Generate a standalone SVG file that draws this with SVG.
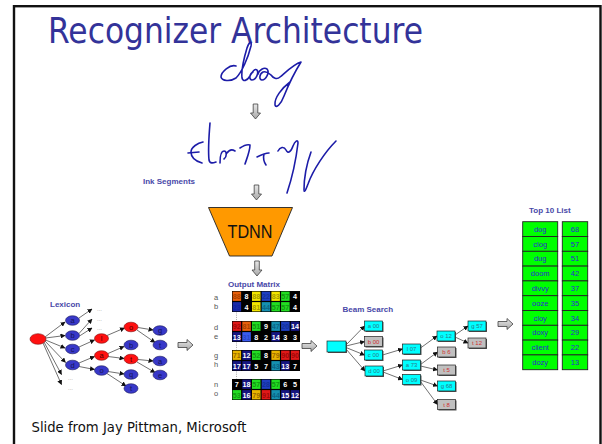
<svg xmlns="http://www.w3.org/2000/svg" width="602" height="444" viewBox="0 0 602 444">
<style>
.lbl{font-family:"Liberation Sans",Arial,sans-serif;font-size:8px;font-weight:bold;fill:#4848a8}
.ink{fill:none;stroke:#1c1ca8;stroke-width:1.6;stroke-linecap:round;stroke-linejoin:round}
.blk{fill:url(#gr);stroke:#404040;stroke-width:0.8}
.nb{fill:#3838c8;stroke:#20205a;stroke-width:0.6}
.nr{fill:#ff1010;stroke:#801010;stroke-width:0.6}
.nt{font-family:"Liberation Sans",Arial,sans-serif;font-size:7.5px;text-anchor:middle;fill:#14145a}
.ntr{font-family:"Liberation Sans",Arial,sans-serif;font-size:7.5px;text-anchor:middle;fill:#500000}
.dots{font-family:"Liberation Sans",Arial,sans-serif;font-size:6px;fill:#999}
.e{fill:none;stroke:#111;stroke-width:0.6;marker-end:url(#ah)}
.be{fill:none;stroke:#111;stroke-width:0.6;marker-end:url(#ah)}
.rl{font-family:"Liberation Sans",Arial,sans-serif;font-size:7.5px;fill:#555}
.mt{font-family:"Liberation Sans",Arial,sans-serif;font-size:7.2px;font-weight:bold;text-anchor:middle}
.bc{fill:#00ffff;stroke:#222;stroke-width:0.7}
.bg{fill:#c0c0c0;stroke:#222;stroke-width:0.7}
.sh{fill:#555}
.tc{font-family:"Liberation Sans",Arial,sans-serif;font-size:6px;text-anchor:middle;fill:#2a7a8a}
.tg{font-family:"Liberation Sans",Arial,sans-serif;font-size:6px;text-anchor:middle;fill:#d03030}
.tl{fill:#00ff00;stroke:#222;stroke-width:0.9}
.tt{font-family:"Liberation Sans",Arial,sans-serif;font-size:7.5px;text-anchor:middle;fill:#2a2ad0}
</style>
<defs>
<linearGradient id="gr" x1="0" y1="0" x2="0" y2="1"><stop offset="0" stop-color="#e8e8e8"/><stop offset="1" stop-color="#a8a8a8"/></linearGradient>
<marker id="ah" markerWidth="5" markerHeight="5" refX="4.5" refY="2.5" orient="auto" markerUnits="userSpaceOnUse"><path d="M0,0 L5,2.5 L0,5 Z" fill="#111"/></marker>
<path id="ra" d="M0,-2.5 H9 V-5.5 L15,0 L9,5.5 V2.5 H0 Z"/>
<path id="da" d="M-2.3,0 V9 H-5 L0,15 L5,9 H2.3 V0 Z"/>
</defs>
<rect width="602" height="444" fill="#fff"/>
<rect x="14" y="6.2" width="586.5" height="470" fill="none" stroke="#111" stroke-width="2.4"/>

<g id="title"><text x="48" y="43" font-family="'DejaVu Sans',Verdana,sans-serif" font-size="36" fill="#333399" textLength="375" lengthAdjust="spacingAndGlyphs">Recognizer Architecture</text></g>

<g id="ink-dog">
<path class="ink" d="M236,66 C230,64 221,72 221,77 C222,81 230,82 236,78 C242,72 248,58 251,46 C252,40 249,42 247,48 C244,58 241,70 242,78 C243,82 247,81 250,76 C252,72 255,68 257,70 C259,73 256,80 252,80 C249,80 249,74 253,72"/>
<path class="ink" d="M258,74 C259,70 264,67 267,69 C270,72 266,80 262,80 C259,80 259,74 263,72 C266,71 269,73 271,75 C273,78 277,80 280,77 C286,72 294,64 301,62 C296,70 288,86 284,96 C281,104 276,109 275,105 C274,98 282,88 290,82"/>
</g>

<g id="ink-segments">
<path class="ink" d="M203,142 C198,143 191,147 191,152 C191,157 195,161 202,163"/>
<path class="ink" d="M188,153 L199,152"/>
<path class="ink" d="M210,123 C209,135 208,150 209,160 C210,164 213,163 216,162"/>
<path class="ink" d="M220,163 C220,156 221,151 224,151 C227,151 227,157 224,159 M227,153 C229,150 232,149 235,151"/>
<path class="ink" d="M240,148 C243,146 247,144 250,145 C250,151 247,158 245,164"/>
<path class="ink" d="M257,157 C261,155 265,153 269,153 M264,154 C263,158 264,162 266,165"/>
<path class="ink" d="M278,151 C280,147 284,146 286,150 C288,154 291,152 293,146 C295,141 298,139 298,143 C296,160 292,178 287,193"/>
<path class="ink" d="M311,152 C307,163 304,178 304,190"/>
<path class="ink" d="M336,141 C325,152 313,170 308,184 C306,189 305,192 304,191"/>
</g>
<g id="label-ink"><text class="lbl" x="143" y="184">Ink Segments</text></g>

<g id="down-arrows">
<use href="#da" x="255.5" y="104" class="blk"/>
<use href="#da" x="256.5" y="185" class="blk"/>
<use href="#da" x="257" y="261" class="blk"/>
</g>

<g id="tdnn">
<polygon points="208.5,207.5 292.5,207.5 272,256 229.5,256" fill="#ff9900" stroke="#222" stroke-width="0.9"/>
<text x="250" y="238" font-family="'Liberation Sans',Arial,sans-serif" font-size="17.5" fill="#111" text-anchor="middle" textLength="45" lengthAdjust="spacingAndGlyphs">TDNN</text>
</g>

<g id="lexicon">
<text class="lbl" x="50" y="307">Lexicon</text>
<g id="lex-edges">
<path class="e" d="M45,337 L65,322"/>
<path class="e" d="M45.5,338 L65,335.5"/>
<path class="e" d="M45.5,340 L65,348"/>
<path class="e" d="M45,341 L65.5,362.5"/>
<path class="e" d="M44,342 L61.5,374.5"/>
<path class="e" d="M43,343 L61.5,384.5"/>
<path class="e" d="M79,318 L92,309"/>
<path class="e" d="M79,333.5 L92,319"/>
<path class="e" d="M79.5,336 L92,328"/>
<path class="e" d="M79,347 L94.5,340"/>
<path class="e" d="M79,363 L94.5,356.5"/>
<path class="e" d="M79,366.5 L94.5,369.5"/>
<path class="e" d="M107,335.5 L124.5,328"/>
<path class="e" d="M108,353.5 L124,346.5"/>
<path class="e" d="M108,356.5 L124,358.5"/>
<path class="e" d="M108,371.5 L124,374"/>
<path class="e" d="M107,373.5 L126,386"/>
<path class="e" d="M138,327.5 L153,330"/>
<path class="e" d="M137,330 L155,342.5"/>
<path class="e" d="M138,359.5 L153,361"/>
<path class="e" d="M137,362 L155,372.5"/>
</g>
<text class="dots" x="97" y="311">...</text>
<text class="dots" x="97" y="321">...</text>
<text class="dots" x="97" y="330">...</text>
<text class="dots" x="68" y="380">...</text>
<text class="dots" x="68" y="390">...</text>
<g id="lx-root"><ellipse class="nr" cx="38" cy="339" rx="8" ry="5.3"/></g>
<g id="lx-a"><ellipse class="nb" cx="72.5" cy="320.5" rx="7" ry="4.8"/><text class="nt" x="72.5" y="323.2">a</text></g>
<g id="lx-b"><ellipse class="nb" cx="72.5" cy="335.5" rx="7" ry="4.8"/><text class="nt" x="72.5" y="338.2">b</text></g>
<g id="lx-c"><ellipse class="nb" cx="72.5" cy="349" rx="7" ry="4.8"/><text class="nt" x="72.5" y="351.7">c</text></g>
<g id="lx-d"><ellipse class="nb" cx="72.5" cy="365" rx="7" ry="4.8"/><text class="nt" x="72.5" y="367.7">d</text></g>
<g id="lx-cl"><ellipse class="nr" cx="101.5" cy="338.5" rx="7" ry="4.8"/><text class="ntr" x="101.5" y="341.2">l</text></g>
<g id="lx-da"><ellipse class="nr" cx="101.5" cy="355.5" rx="7" ry="4.8"/><text class="ntr" x="101.5" y="358.2">a</text></g>
<g id="lx-do"><ellipse class="nb" cx="101.5" cy="370.5" rx="7" ry="4.8"/><text class="nt" x="101.5" y="373.2">o</text></g>
<g id="lx-clo"><ellipse class="nr" cx="131" cy="327" rx="7" ry="4.8"/><text class="ntr" x="131" y="329.7">o</text></g>
<g id="lx-dab"><ellipse class="nb" cx="131" cy="345" rx="7" ry="4.8"/><text class="nt" x="131" y="347.7">b</text></g>
<g id="lx-dat"><ellipse class="nr" cx="131" cy="359" rx="7" ry="4.8"/><text class="ntr" x="131" y="361.7">t</text></g>
<g id="lx-doq"><ellipse class="nb" cx="131" cy="374.5" rx="7" ry="4.8"/><text class="nt" x="131" y="377.2">q</text></g>
<g id="lx-dot"><ellipse class="nb" cx="131" cy="388.5" rx="7" ry="4.8"/><text class="nt" x="131" y="391.2">t</text></g>
<g id="lx-clog"><ellipse class="nb" cx="160" cy="330.5" rx="7" ry="4.8"/><text class="nt" x="160" y="333.2">g</text></g>
<g id="lx-clot"><ellipse class="nb" cx="160" cy="345" rx="7" ry="4.8"/><text class="nt" x="160" y="347.7">t</text></g>
<g id="lx-data"><ellipse class="nb" cx="160" cy="361" rx="7" ry="4.8"/><text class="nt" x="160" y="363.7">a</text></g>
<g id="lx-date"><ellipse class="nb" cx="160" cy="375" rx="7" ry="4.8"/><text class="nt" x="160" y="377.7">e</text></g>
</g>

<g id="right-arrows">
<use href="#ra" x="178" y="345" class="blk"/>
<use href="#ra" x="302" y="346" class="blk"/>
<use href="#ra" x="498" y="324" class="blk"/>
</g>

<g id="output-matrix">
<text class="lbl" x="228" y="287">Output Matrix</text>
<g id="row-labels">
<text class="rl" x="214" y="300">a</text><text class="rl" x="214" y="309">b</text>
<text class="rl" x="214" y="330">d</text><text class="rl" x="214" y="339">e</text>
<text class="rl" x="214" y="358">g</text><text class="rl" x="214" y="367">h</text>
<text class="rl" x="214" y="387">n</text><text class="rl" x="214" y="396">o</text>
</g>
<g stroke="#aaa" stroke-width="1" stroke-dasharray="1,1.2">
<line x1="236.5" y1="312.5" x2="236.5" y2="320.5"/>
<line x1="236.5" y1="342.5" x2="236.5" y2="349.5"/>
<line x1="236.5" y1="371.5" x2="236.5" y2="378.5"/>
</g>
<g id="mx-ab">
<rect x="232" y="291" width="68" height="21" fill="#000"/>
<rect x="232.6" y="291.6" width="8.5" height="9.3" fill="#e8600c"/><text class="mt" x="236.85" y="299.1" fill="#a84000">88</text>
<text class="mt" x="246.55" y="299.1" fill="#fff">8</text>
<rect x="252" y="291.6" width="8.5" height="9.3" fill="#f2e600"/><text class="mt" x="256.25" y="299.1" fill="#a89c00">88</text>
<rect x="261.7" y="291.6" width="8.5" height="9.3" fill="#1f3fc0"/><text class="mt" x="265.95" y="299.1" fill="#12309a">22</text>
<rect x="271.4" y="291.6" width="8.5" height="9.3" fill="#f2e600"/><text class="mt" x="275.65" y="299.1" fill="#a89c00">83</text>
<rect x="281.1" y="291.6" width="8.5" height="9.3" fill="#22dd22"/><text class="mt" x="285.35" y="299.1" fill="#119911">57</text>
<text class="mt" x="295.05" y="299.1" fill="#fff">4</text>
<rect x="232.6" y="302.1" width="8.5" height="9.3" fill="#1a2aa8"/><text class="mt" x="236.85" y="309.6" fill="#1020a0">23</text>
<text class="mt" x="246.55" y="309.6" fill="#fff">4</text>
<rect x="252" y="302.1" width="8.5" height="9.3" fill="#f2e600"/><text class="mt" x="256.25" y="309.6" fill="#a89c00">81</text>
<rect x="261.7" y="302.1" width="8.5" height="9.3" fill="#1590b0"/><text class="mt" x="265.95" y="309.6" fill="#0b6585">44</text>
<rect x="271.4" y="302.1" width="8.5" height="9.3" fill="#22dd22"/><text class="mt" x="275.65" y="309.6" fill="#119911">57</text>
<rect x="281.1" y="302.1" width="8.5" height="9.3" fill="#22dd22"/><text class="mt" x="285.35" y="309.6" fill="#119911">57</text>
<text class="mt" x="295.05" y="309.6" fill="#fff">4</text>
</g>
<g id="mx-de">
<rect x="232" y="321" width="68" height="21" fill="#000"/>
<rect x="232.6" y="321.6" width="8.5" height="9.3" fill="#e01818"/><text class="mt" x="236.85" y="329.1" fill="#a00808">92</text>
<rect x="242.3" y="321.6" width="8.5" height="9.3" fill="#e8600c"/><text class="mt" x="246.55" y="329.1" fill="#a84000">81</text>
<rect x="252" y="321.6" width="8.5" height="9.3" fill="#22dd22"/><text class="mt" x="256.25" y="329.1" fill="#119911">51</text>
<text class="mt" x="265.95" y="329.1" fill="#fff">9</text>
<rect x="271.4" y="321.6" width="8.5" height="9.3" fill="#1590b0"/><text class="mt" x="275.65" y="329.1" fill="#0b6585">47</text>
<rect x="281.1" y="321.6" width="8.5" height="9.3" fill="#1f3fc0"/><text class="mt" x="285.35" y="329.1" fill="#12309a">20</text>
<rect x="290.8" y="321.6" width="8.5" height="9.3" fill="#161680"/><text class="mt" x="295.05" y="329.1" fill="#fff">14</text>
<rect x="232.6" y="332.1" width="8.5" height="9.3" fill="#161680"/><text class="mt" x="236.85" y="339.6" fill="#fff">13</text>
<rect x="242.3" y="332.1" width="8.5" height="9.3" fill="#3a5af0"/><text class="mt" x="246.55" y="339.6" fill="#2a46c8">31</text>
<text class="mt" x="256.25" y="339.6" fill="#fff">8</text>
<text class="mt" x="265.95" y="339.6" fill="#fff">2</text>
<rect x="271.4" y="332.1" width="8.5" height="9.3" fill="#161680"/><text class="mt" x="275.65" y="339.6" fill="#fff">14</text>
<text class="mt" x="285.35" y="339.6" fill="#fff">3</text>
<text class="mt" x="295.05" y="339.6" fill="#fff">3</text>
</g>
<g id="mx-gh">
<rect x="232" y="350" width="68" height="21" fill="#000"/>
<rect x="232.6" y="350.6" width="8.5" height="9.3" fill="#e8b400"/><text class="mt" x="236.85" y="358.1" fill="#9a6a00">71</text>
<rect x="242.3" y="350.6" width="8.5" height="9.3" fill="#161680"/><text class="mt" x="246.55" y="358.1" fill="#fff">12</text>
<rect x="252" y="350.6" width="8.5" height="9.3" fill="#22dd22"/><text class="mt" x="256.25" y="358.1" fill="#119911">52</text>
<text class="mt" x="265.95" y="358.1" fill="#fff">8</text>
<rect x="271.4" y="350.6" width="8.5" height="9.3" fill="#e8b400"/><text class="mt" x="275.65" y="358.1" fill="#9a6a00">79</text>
<rect x="281.1" y="350.6" width="8.5" height="9.3" fill="#e01818"/><text class="mt" x="285.35" y="358.1" fill="#a00808">90</text>
<rect x="290.8" y="350.6" width="8.5" height="9.3" fill="#e01818"/><text class="mt" x="295.05" y="358.1" fill="#a00808">90</text>
<rect x="232.6" y="361.1" width="8.5" height="9.3" fill="#161680"/><text class="mt" x="236.85" y="368.6" fill="#fff">17</text>
<rect x="242.3" y="361.1" width="8.5" height="9.3" fill="#161680"/><text class="mt" x="246.55" y="368.6" fill="#fff">17</text>
<text class="mt" x="256.25" y="368.6" fill="#fff">5</text>
<text class="mt" x="265.95" y="368.6" fill="#fff">7</text>
<rect x="271.4" y="361.1" width="8.5" height="9.3" fill="#1590b0"/><text class="mt" x="275.65" y="368.6" fill="#0b6585">43</text>
<rect x="281.1" y="361.1" width="8.5" height="9.3" fill="#161680"/><text class="mt" x="285.35" y="368.6" fill="#fff">13</text>
<text class="mt" x="295.05" y="368.6" fill="#fff">7</text>
</g>
<g id="mx-no">
<rect x="232" y="379" width="68" height="21" fill="#000"/>
<text class="mt" x="236.85" y="387.1" fill="#fff">7</text>
<rect x="242.3" y="379.6" width="8.5" height="9.3" fill="#161680"/><text class="mt" x="246.55" y="387.1" fill="#fff">18</text>
<rect x="252" y="379.6" width="8.5" height="9.3" fill="#22dd22"/><text class="mt" x="256.25" y="387.1" fill="#119911">57</text>
<rect x="261.7" y="379.6" width="8.5" height="9.3" fill="#1f3fc0"/><text class="mt" x="265.95" y="387.1" fill="#12309a">28</text>
<rect x="271.4" y="379.6" width="8.5" height="9.3" fill="#22dd22"/><text class="mt" x="275.65" y="387.1" fill="#119911">57</text>
<text class="mt" x="285.35" y="387.1" fill="#fff">6</text>
<text class="mt" x="295.05" y="387.1" fill="#fff">5</text>
<rect x="232.6" y="390.1" width="8.5" height="9.3" fill="#22dd22"/><text class="mt" x="236.85" y="397.6" fill="#119911">53</text>
<rect x="242.3" y="390.1" width="8.5" height="9.3" fill="#161680"/><text class="mt" x="246.55" y="397.6" fill="#fff">16</text>
<rect x="252" y="390.1" width="8.5" height="9.3" fill="#e8b400"/><text class="mt" x="256.25" y="397.6" fill="#9a6a00">79</text>
<rect x="261.7" y="390.1" width="8.5" height="9.3" fill="#e01818"/><text class="mt" x="265.95" y="397.6" fill="#a00808">91</text>
<rect x="271.4" y="390.1" width="8.5" height="9.3" fill="#1590b0"/><text class="mt" x="275.65" y="397.6" fill="#0b6585">44</text>
<rect x="281.1" y="390.1" width="8.5" height="9.3" fill="#161680"/><text class="mt" x="285.35" y="397.6" fill="#fff">15</text>
<rect x="290.8" y="390.1" width="8.5" height="9.3" fill="#161680"/><text class="mt" x="295.05" y="397.6" fill="#fff">12</text>
</g>
</g>

<g id="beam-search">
<text class="lbl" x="342.5" y="312">Beam Search</text>
<g id="beam-edges">
<path class="be" d="M346,345 L364.5,326"/>
<path class="be" d="M346,346 L364.5,341.5"/>
<path class="be" d="M346,347.5 L364.5,355"/>
<path class="be" d="M346,349 L365,371"/>
<path class="be" d="M382.5,355 L402.5,349"/>
<path class="be" d="M383,371 L402.5,365"/>
<path class="be" d="M383,372 L402.5,379.5"/>
<path class="be" d="M420.5,348 L437,336"/>
<path class="be" d="M420.5,364.5 L437.5,352"/>
<path class="be" d="M420.5,366 L437.5,370"/>
<path class="be" d="M420.5,380 L437.5,386"/>
<path class="be" d="M420.5,381.5 L437.5,404.5"/>
<path class="be" d="M455,335 L468,326"/>
<path class="be" d="M455,337 L468,343"/>
</g>
<g id="bs-root"><rect class="sh" x="328" y="342" width="19" height="11"/><rect class="bc" x="327" y="341" width="19" height="11"/></g>
<g id="bs-a00"><rect class="sh" x="365.5" y="322" width="18" height="10"/><rect class="bc" x="364.5" y="321" width="18" height="10"/><text class="tc" x="373.5" y="328.2">a 00</text></g>
<g id="bs-b00"><rect class="sh" x="365.5" y="337.5" width="18" height="10"/><rect class="bg" x="364.5" y="336.5" width="18" height="10"/><text class="tg" x="373.5" y="343.7">b 00</text></g>
<g id="bs-c00"><rect class="sh" x="365.5" y="351" width="18" height="10"/><rect class="bc" x="364.5" y="350" width="18" height="10"/><text class="tc" x="373.5" y="357.2">c 00</text></g>
<g id="bs-d00"><rect class="sh" x="366" y="367" width="18" height="10"/><rect class="bc" x="365" y="366" width="18" height="10"/><text class="tc" x="374" y="373.2">d 00</text></g>
<g id="bs-l07"><rect class="sh" x="403.5" y="345" width="18" height="10"/><rect class="bc" x="402.5" y="344" width="18" height="10"/><text class="tc" x="411.5" y="351.2">l 07</text></g>
<g id="bs-a73"><rect class="sh" x="403.5" y="361" width="18" height="10"/><rect class="bc" x="402.5" y="360" width="18" height="10"/><text class="tc" x="411.5" y="367.2">a 73</text></g>
<g id="bs-o09"><rect class="sh" x="403.5" y="375.5" width="18" height="10"/><rect class="bc" x="402.5" y="374.5" width="18" height="10"/><text class="tc" x="411.5" y="381.7">o 09</text></g>
<g id="bs-o12"><rect class="sh" x="438" y="332" width="18" height="10"/><rect class="bc" x="437" y="331" width="18" height="10"/><text class="tc" x="446" y="338.2">o 12</text></g>
<g id="bs-b6"><rect class="sh" x="438.5" y="348" width="18" height="10"/><rect class="bg" x="437.5" y="347" width="18" height="10"/><text class="tg" x="446.5" y="354.2">b 6</text></g>
<g id="bs-t5"><rect class="sh" x="438.5" y="366" width="18" height="10"/><rect class="bg" x="437.5" y="365" width="18" height="10"/><text class="tg" x="446.5" y="372.2">t 5</text></g>
<g id="bs-g68"><rect class="sh" x="438.5" y="382" width="18" height="10"/><rect class="bc" x="437.5" y="381" width="18" height="10"/><text class="tc" x="446.5" y="388.2">g 68</text></g>
<g id="bs-t8"><rect class="sh" x="438.5" y="400.5" width="18" height="10"/><rect class="bg" x="437.5" y="399.5" width="18" height="10"/><text class="tg" x="446.5" y="406.7">t 8</text></g>
<g id="bs-g57"><rect class="sh" x="469" y="322" width="18" height="10"/><rect class="bc" x="468" y="321" width="18" height="10"/><text class="tc" x="477" y="328.2">g 57</text></g>
<g id="bs-t12"><rect class="sh" x="469" y="339" width="18" height="10"/><rect class="bg" x="468" y="338" width="18" height="10"/><text class="tg" x="477" y="345.2">t 12</text></g>
</g>

<g id="top10">
<text class="lbl" x="529" y="213">Top 10 List</text>
<g id="t1"><rect class="tl" x="522.7" y="221.7" width="35" height="14.8"/><text class="tt" x="540.2" y="231.8">dog</text><rect class="tl" x="562.3" y="221.7" width="25.4" height="14.8"/><text class="tt" x="575" y="231.8">68</text></g>
<g id="t2"><rect class="tl" x="522.7" y="236.5" width="35" height="14.8"/><text class="tt" x="540.2" y="246.6">clog</text><rect class="tl" x="562.3" y="236.5" width="25.4" height="14.8"/><text class="tt" x="575" y="246.6">57</text></g>
<g id="t3"><rect class="tl" x="522.7" y="251.3" width="35" height="14.8"/><text class="tt" x="540.2" y="261.4">dug</text><rect class="tl" x="562.3" y="251.3" width="25.4" height="14.8"/><text class="tt" x="575" y="261.4">51</text></g>
<g id="t4"><rect class="tl" x="522.7" y="266.1" width="35" height="14.8"/><text class="tt" x="540.2" y="276.2">doom</text><rect class="tl" x="562.3" y="266.1" width="25.4" height="14.8"/><text class="tt" x="575" y="276.2">42</text></g>
<g id="t5"><rect class="tl" x="522.7" y="280.9" width="35" height="14.8"/><text class="tt" x="540.2" y="291">divvy</text><rect class="tl" x="562.3" y="280.9" width="25.4" height="14.8"/><text class="tt" x="575" y="291">37</text></g>
<g id="t6"><rect class="tl" x="522.7" y="295.7" width="35" height="14.8"/><text class="tt" x="540.2" y="305.8">ooze</text><rect class="tl" x="562.3" y="295.7" width="25.4" height="14.8"/><text class="tt" x="575" y="305.8">35</text></g>
<g id="t7"><rect class="tl" x="522.7" y="310.5" width="35" height="14.8"/><text class="tt" x="540.2" y="320.6">cloy</text><rect class="tl" x="562.3" y="310.5" width="25.4" height="14.8"/><text class="tt" x="575" y="320.6">34</text></g>
<g id="t8"><rect class="tl" x="522.7" y="325.3" width="35" height="14.8"/><text class="tt" x="540.2" y="335.4">doxy</text><rect class="tl" x="562.3" y="325.3" width="25.4" height="14.8"/><text class="tt" x="575" y="335.4">29</text></g>
<g id="t9"><rect class="tl" x="522.7" y="340.1" width="35" height="14.8"/><text class="tt" x="540.2" y="350.2">client</text><rect class="tl" x="562.3" y="340.1" width="25.4" height="14.8"/><text class="tt" x="575" y="350.2">22</text></g>
<g id="t10"><rect class="tl" x="522.7" y="354.9" width="35" height="14.8"/><text class="tt" x="540.2" y="365">dozy</text><rect class="tl" x="562.3" y="354.9" width="25.4" height="14.8"/><text class="tt" x="575" y="365">13</text></g>
</g>

<g id="footer"><text x="31.5" y="432" font-family="'DejaVu Sans',Verdana,sans-serif" font-size="14" fill="#111" textLength="215" lengthAdjust="spacingAndGlyphs">Slide from Jay Pittman, Microsoft</text></g>
</svg>
